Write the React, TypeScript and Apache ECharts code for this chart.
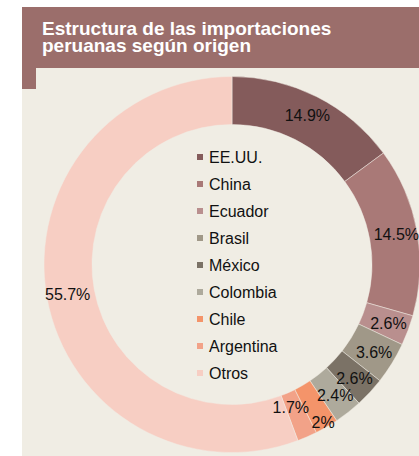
import React, { useEffect, useRef } from "react";
import * as echarts from "echarts";

const countries = ["EE.UU.", "China", "Ecuador", "Brasil", "México", "Colombia", "Chile", "Argentina", "Otros"];
const shares = [14.9, 14.5, 2.6, 3.6, 2.6, 2.4, 2.0, 1.7, 55.7];
const palette = ["#845B5B", "#A97977", "#B98F8E", "#A09888", "#7B7266", "#AEAA9C", "#F4946A", "#F2A288", "#F7CEC3"];
const titleLines = ["Estructura de las importaciones", "peruanas según origen"];

const labelNudges: Record<string, number[]> = {
  Chile: [7, 14],
  Argentina: [-8, -10],
};

export default function App() {
  const ref = useRef<HTMLDivElement>(null);
  useEffect(() => {
    if (!ref.current) return;
    const chart = echarts.init(ref.current, null, { renderer: "svg" });
    const font = "'Liberation Sans', Arial, Helvetica, sans-serif";
    chart.setOption({
      animation: false,
      backgroundColor: "#FFFFFF",
      textStyle: { fontFamily: font },
      graphic: [
        { type: "rect", shape: { x: 22, y: 68, width: 397, height: 388 }, style: { fill: "#F0EDE4" }, z: -10 },
        { type: "rect", shape: { x: 22, y: 7, width: 397, height: 61 }, style: { fill: "#9B6E6B" }, z: -9 },
        { type: "rect", shape: { x: 22, y: 68, width: 14, height: 21 }, style: { fill: "#9B6E6B" }, z: -9 },
      ],
      title: {
        text: titleLines.join("\n"),
        left: 42,
        top: 20,
        padding: 0,
        textStyle: {
          fontFamily: font,
          fontWeight: "bold",
          fontSize: 19,
          lineHeight: 17,
          color: "#FFFFFF",
        },
      },
      legend: {
        orient: "vertical",
        left: 195,
        top: 149,
        padding: 0,
        itemWidth: 8,
        itemHeight: 8,
        itemGap: 11,
        icon: "rect",
        data: countries,
        textStyle: { fontFamily: font, fontSize: 16, color: "#111111" },
      },
      series: [
        {
          type: "pie",
          center: [232, 264.5],
          radius: [140, 188],
          startAngle: 90,
          clockwise: true,
          avoidLabelOverlap: false,
          itemStyle: { borderColor: "#F0EDE4", borderWidth: 0.5 },
          label: {
            show: true,
            position: "inside",
            formatter: "{c}%",
            fontFamily: font,
            fontSize: 16,
            color: "#111111",
          },
          labelLine: { show: false },
          emphasis: { disabled: true },
          data: countries.map((name, i) => ({
            name,
            value: shares[i],
            itemStyle: { color: palette[i] },
            label: labelNudges[name] ? { offset: labelNudges[name] } : undefined,
          })),
        },
      ],
    });
    return () => chart.dispose();
  }, []);
  return (
    <div
      ref={ref}
      style={{ position: "fixed", left: 0, top: 0, width: 419, height: 456 }}
    />
  );
}
